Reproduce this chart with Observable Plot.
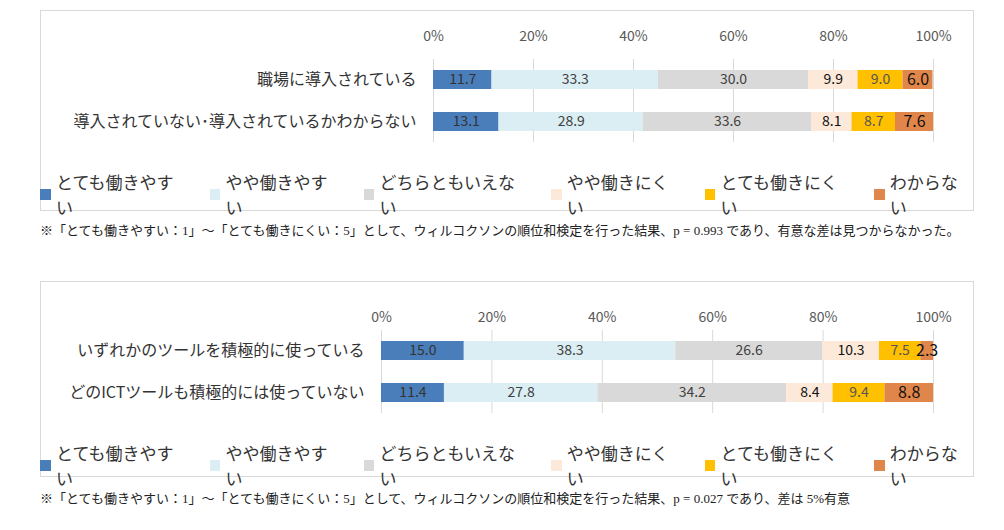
<!DOCTYPE html>
<html><head><meta charset="utf-8">
<script src="https://cdn.jsdelivr.net/npm/d3@7"></script>
<script src="https://cdn.jsdelivr.net/npm/@observablehq/plot@0.6"></script>
<style>
body{margin:0;background:#fff;font-family:"Noto Sans CJK JP",sans-serif;width:1004px;height:530px;position:relative;overflow:hidden}
.box{position:absolute;left:40px;width:934px;border:1.5px solid #d9d9d9;box-sizing:border-box}
.chart{position:absolute;left:40px}
.legend{position:absolute;left:40px;width:934px;display:flex;justify-content:center;gap:20px;font-size:17px;color:#333}
.legend span{display:flex;align-items:center}
.legend i{display:inline-block;width:11px;height:11px;margin-right:5px}
.note{position:absolute;left:40px;font-size:13px;color:#222;font-family:"Liberation Serif","DejaVu Serif","Noto Sans CJK JP",serif;white-space:nowrap}
</style></head><body>
<div class="box" style="top:10px;height:201px"></div>
<div class="box" style="top:281px;height:196px"></div>
<div id="c1" class="chart" style="top:10px"></div>
<div id="c2" class="chart" style="top:281px"></div>
<div id="l1" class="legend" style="top:169px"></div>
<div id="l2" class="legend" style="top:440px"></div>
<div class="note" style="top:220px">※「とても働きやすい：1」～「とても働きにくい：5」として、ウィルコクソンの順位和検定を行った結果、p = 0.993 であり、有意な差は見つからなかった。</div>
<div class="note" style="top:488px">※「とても働きやすい：1」～「とても働きにくい：5」として、ウィルコクソンの順位和検定を行った結果、p = 0.027 であり、差は 5%有意</div>
<script>
const categories = ["とても働きやすい","やや働きやすい","どちらともいえない","やや働きにくい","とても働きにくい","わからない"];
const colors = ["#4a7ebb","#dbeef4","#d9d9d9","#fde9d9","#ffc000","#e0864a"];
const labelColors = ["#333","#404040","#404040","#111","#555","#111"];
const groups1 = ["職場に導入されている","導入されていない･導入されているかわからない"];
const values1 = [[11.7,33.3,30.0,9.9,9.0,6.0],[13.1,28.9,33.6,8.1,8.7,7.6]];
const groups2 = ["いずれかのツールを積極的に使っている","どのICTツールも積極的には使っていない"];
const values2 = [[15.0,38.3,26.6,10.3,7.5,2.3],[11.4,27.8,34.2,8.4,9.4,8.8]];
const ticks = [0,20,40,60,80,100];

function draw(el, groups, values, marginLeft, tickPadding){
  const data = [];
  groups.forEach((g,gi)=>values[gi].forEach((v,ci)=>data.push({group:g,cat:categories[ci],ci,value:v})));
  const stackOpts = {x:"value",y:"group",z:"cat",order:categories};
  const plot = Plot.plot({
    width:934, height:137, marginLeft, marginRight:41, marginTop:49, marginBottom:5,
    style:{fontFamily:"'Noto Sans CJK JP',sans-serif",background:"transparent"},
    x:{domain:[0,100],axis:null},
    y:{domain:groups,paddingInner:0.55,paddingOuter:0.25,axis:null},
    color:{domain:categories,range:colors},
    marks:[
      Plot.ruleX(ticks,{stroke:"#d9d9d9"}),
      Plot.barX(data,Plot.stackX({...stackOpts,fill:"cat"})),
      Plot.text(data,Plot.stackX({...stackOpts,text:d=>d.value.toFixed(1),fill:d=>labelColors[d.ci],fontSize:d=>d.ci===5?16:14})),
      Plot.axisX({anchor:"top",ticks,tickFormat:d=>d+"%",tickSize:0,tickPadding,fontSize:14,fill:"#595959",label:null}),
      Plot.axisY({tickSize:0,tickPadding:17,fontSize:16,fill:"#333",label:null})
    ]
  });
  document.getElementById(el).append(plot);
}
draw("c1",groups1,values1,393,19);
draw("c2",groups2,values2,341,9);
for(const id of ["l1","l2"]){
  document.getElementById(id).innerHTML = categories.map((c,i)=>`<span><i style="background:${colors[i]}"></i>${c}</span>`).join("");
}
</script>
</body></html>
